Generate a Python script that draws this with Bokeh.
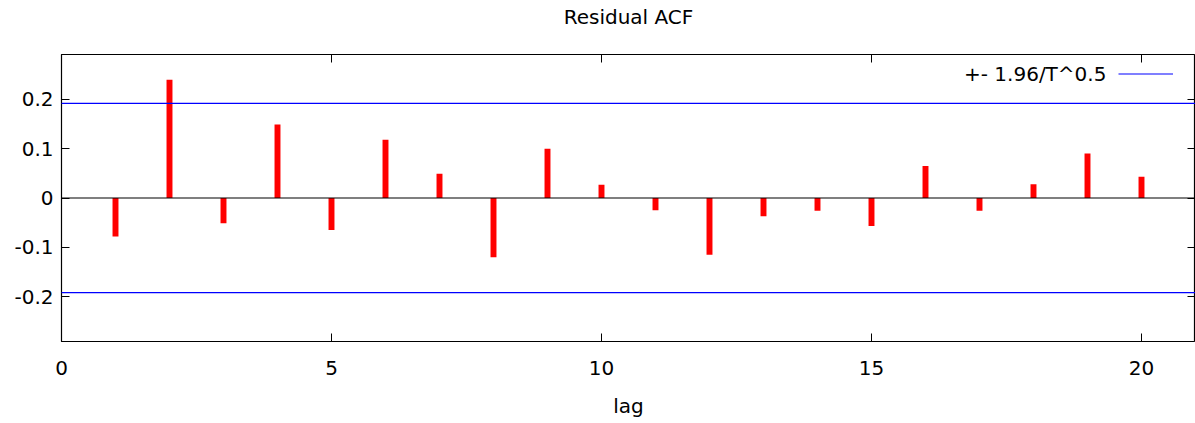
from bokeh.plotting import figure
from bokeh.models import Range1d, FixedTicker, LinearAxis, Span, Label, Legend, LegendItem
from bokeh.embed import file_html
from bokeh.resources import INLINE

# ---- data ----
lags = [1, 2, 3, 4, 5, 6, 7, 8, 9, 10, 11, 12, 13, 14, 15, 16, 17, 18, 19, 20]
acf = [-0.078, 0.240, -0.051, 0.149, -0.065, 0.118, 0.049, -0.120, 0.100, 0.027,
       -0.025, -0.115, -0.037, -0.026, -0.057, 0.065, -0.026, 0.028, 0.090, 0.043]
conf_band = [0.192, -0.192]
legend_text = "+- 1.96/T^0.5"
title_text = "Residual ACF"
x_label = "lag"
x_ticks = [0, 5, 10, 15, 20]
y_ticks = [-0.2, -0.1, 0, 0.1, 0.2]
y_tick_labels = ["-0.2", "-0.1", "0", "0.1", "0.2"]

FONT = "DejaVu Sans"
FS = "20px"
BLUE = "#0000ff"

p = figure(frame_width=1134, frame_height=287, output_backend="svg", toolbar_location=None,
           x_range=Range1d(0, 21), y_range=Range1d(-0.291, 0.291),
           min_border_left=61, min_border_right=0, min_border_top=54, min_border_bottom=82,
           background_fill_color="white", border_fill_color="white")
p.xgrid.visible = False
p.ygrid.visible = False
p.outline_line_color = "black"
p.outline_line_width = 1.2

for ax in p.xaxis:
    ax.ticker = FixedTicker(ticks=x_ticks)
    ax.axis_label = x_label
for ax in p.yaxis:
    ax.ticker = FixedTicker(ticks=y_ticks)
    ax.major_label_overrides = {t: s for t, s in zip(y_ticks, y_tick_labels)}

def style_axis(ax):
    ax.axis_line_color = None
    ax.major_tick_in = 8
    ax.major_tick_out = 0
    ax.minor_tick_in = 0
    ax.minor_tick_out = 0
    ax.major_tick_line_color = "black"
    ax.major_label_text_font = FONT
    ax.major_label_text_font_size = FS
    ax.major_label_text_color = "black"
    ax.axis_label_text_font = FONT
    ax.axis_label_text_font_size = FS
    ax.axis_label_text_font_style = "normal"
    ax.axis_label_text_color = "black"

style_axis(p.xaxis[0])
p.xaxis[0].major_label_standoff = 19
p.xaxis[0].axis_label_standoff = 16
style_axis(p.yaxis[0])
p.yaxis[0].major_label_standoff = 8

# mirrored tick marks on top border; the chart title sits above them
top_ax = LinearAxis(ticker=FixedTicker(ticks=x_ticks))
style_axis(top_ax)
top_ax.major_label_overrides = {t: "" for t in x_ticks}
top_ax.major_label_standoff = 0
top_ax.axis_label = title_text
top_ax.axis_label_standoff = 26
p.add_layout(top_ax, "above")

# mirrored tick marks on right border
right_ax = LinearAxis(ticker=FixedTicker(ticks=y_ticks))
style_axis(right_ax)
right_ax.major_label_overrides = {t: "" for t in y_ticks}
right_ax.major_label_standoff = 0
p.add_layout(right_ax, "right")

# confidence band lines (glyph for legend key, spans on top)
band = p.hspan(y=conf_band, line_color=BLUE, line_width=1.2)
for c in conf_band:
    p.add_layout(Span(location=c, dimension="width", line_color=BLUE, line_width=1.2))

# zero axis
p.add_layout(Span(location=0, dimension="width", line_color="black", line_width=1.2))

# impulses
p.vbar(x=lags, top=acf, bottom=0, width=0.11, fill_color="#ff0000", line_color=None)

# legend (text left of sample, gnuplot style)
p.add_layout(Label(x=19.35, y=0.2515, text=legend_text, text_align="right",
                   text_baseline="middle", text_font=FONT, text_font_size=FS,
                   text_color="black"))
leg = Legend(items=[LegendItem(label=" ", renderers=[band])],
             location=(1057, 260), glyph_width=55, glyph_height=15, label_height=15,
             label_width=0, label_standoff=0, padding=0, margin=0, spacing=0,
             border_line_alpha=0, background_fill_alpha=0, label_text_font_size="1px")
p.add_layout(leg, "center")

open("out.html", "w").write(file_html(p, INLINE))
